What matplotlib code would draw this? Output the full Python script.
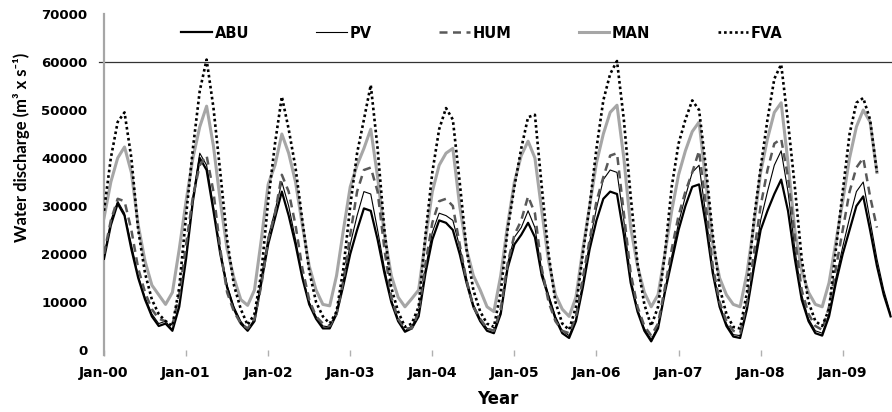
import numpy as np
import matplotlib
matplotlib.use('Agg')
import matplotlib.pyplot as plt

# monthly discharge, starting Jan-2000 (m3/s)
abu = [19000, 26000, 30500, 28000, 21000, 15000, 10500, 7000, 5000, 5500, 4000, 9000,
       19000, 31000, 40000, 37500, 29000, 20000, 13000, 8500, 5500, 4000, 6000, 14000,
       22000, 27500, 33000, 28000, 22000, 15000, 9500, 6500, 4500, 4500, 7500, 13500,
       20000, 25000, 29500, 29000, 23000, 16000, 10000, 6000, 3800, 4500, 7000, 16000,
       23000, 27000, 26500, 25000, 20000, 14000, 9000, 6000, 4000, 3500, 7500, 17000,
       22000, 24000, 26500, 23500, 15500, 11000, 6500, 3500, 2500, 6000, 13000, 21000,
       27000, 31500, 33000, 32500, 24000, 14000, 8000, 4000, 1800, 4500, 12000, 18500,
       25000, 30000, 34000, 34500, 26000, 16000, 9000, 5000, 2800, 2500, 8500, 17000,
       25000, 29000, 32500, 35500, 29000, 19000, 10500, 6000, 3500, 3000, 7000, 14000,
       20000, 25000, 30000, 32000, 25000, 17500, 11500, 7000]

pv = [19500, 27000, 31000, 28500, 22000, 15500, 11000, 7500, 5500, 6000, 4200, 9500,
      20000, 32000, 41000, 38500, 30000, 21000, 13500, 9000, 6000, 4200, 6500, 15000,
      23500, 29000, 35000, 30000, 23000, 15500, 10000, 7000, 5000, 4800, 8000, 14500,
      22000, 28000, 33000, 32500, 25000, 17000, 10500, 6500, 4000, 5000, 7500, 17000,
      24500, 28500, 28000, 27000, 21500, 15000, 9500, 6500, 4500, 4000, 8000, 18000,
      23500, 25500, 29000, 25500, 16500, 11500, 7000, 4000, 3000, 6500, 14000, 22500,
      29500, 35500, 37500, 37000, 27000, 15000, 8500, 4500, 2200, 5000, 12500, 19500,
      26500, 32000, 37000, 38500, 28000, 17000, 9500, 5500, 3200, 3000, 9000, 18000,
      27000, 33000, 38500, 41500, 33000, 21000, 11500, 6500, 4000, 3500, 7500, 15000,
      21500, 27500, 33000, 35000, 27000, 19000, 12500, 7500]

hum = [20000, 27000, 31500, 31000, 25000, 17000, 12000, 8500, 6500, 6000, 5200, 11500,
       22000, 32000, 38500, 40500, 33000, 21000, 12000, 8000, 5500, 4500, 6500, 13500,
       23000, 28500, 36500, 33000, 26000, 17000, 10500, 7000, 5500, 5000, 7500, 14500,
       24000, 33000, 37500, 38000, 33000, 21000, 11000, 6500, 4500, 4500, 8000, 18000,
       26500, 31000, 31500, 30000, 22000, 14500, 9000, 6500, 4500, 4000, 8500, 18000,
       24000, 27000, 32000, 28500, 17000, 10000, 6000, 4000, 3500, 7000, 15000, 23000,
       31000, 36000, 40500, 41000, 28500, 16000, 9000, 5000, 3000, 5500, 13000, 21000,
       28000, 33000, 37000, 41500, 30000, 17500, 10000, 6000, 4000, 3500, 10000, 20000,
       30000, 37500, 43000, 44000, 36000, 23500, 12500, 7500, 5000, 4200, 9000, 17000,
       25000, 33000, 38000, 40000, 32000, 25500]

man = [27500, 35000, 40000, 42300, 37000, 26000, 18500, 13500, 11500, 9500, 12000, 21000,
       31000, 40000, 46500, 50800, 42500, 31000, 21000, 15000, 10500, 9300, 12500, 23000,
       34500, 38500, 45000, 41000, 35000, 26000, 17500, 12500, 9500, 9200, 15500, 25000,
       34000, 38500, 42000, 46000, 36000, 24000, 15500, 11000, 9000, 10700, 12500, 23000,
       33000, 38500, 41000, 42000, 30000, 21000, 15500, 12500, 9000, 8000, 15500, 26000,
       35000, 40500, 43500, 40000, 29000, 18500, 11500, 8500, 7000, 11000, 21000, 30000,
       39000, 45000, 49500, 51000, 40000, 25500, 17500, 12000, 9000, 11500, 20000, 29000,
       36500, 41500, 45500, 47500, 35000, 22000, 15000, 11500, 9500, 9000, 16000, 26000,
       37000, 44000, 49500, 51500, 39000, 25000, 16500, 12000, 9500, 9000, 14000, 22500,
       31000, 40000, 46500, 50000, 47500, 37000]

fva = [29000, 40000, 47500, 49500, 40000, 25000, 16000, 10500, 7500, 6000, 5000, 13000,
       28000, 42000, 54000, 60500, 50500, 37000, 23000, 13500, 8500, 5200, 7500, 16000,
       31000, 43000, 52800, 46000, 38000, 27000, 16500, 10000, 7000, 5500, 8000, 17000,
       30000, 41000, 48000, 55200, 42000, 25000, 13000, 8000, 4800, 5500, 9000, 24000,
       37000, 46000, 50400, 48000, 35000, 21000, 12500, 8000, 5500, 4800, 12000, 25000,
       34000, 42000, 48500, 49000, 34000, 20000, 10000, 5500, 4200, 9000, 20000, 30000,
       42000, 52000, 57500, 60200, 48000, 32000, 18000, 9500, 5000, 9000, 20000, 34000,
       43000, 48000, 52000, 50000, 38000, 24000, 13000, 7500, 4800, 4500, 12000, 27000,
       38000, 48000, 56500, 59500, 47500, 34000, 19000, 10000, 6000, 5000, 8500, 21000,
       33000, 45000, 51500, 52500, 48000, 37000]

names = ['ABU', 'PV', 'HUM', 'MAN', 'FVA']
tick_labels = ['Jan-00', 'Jan-01', 'Jan-02', 'Jan-03', 'Jan-04',
               'Jan-05', 'Jan-06', 'Jan-07', 'Jan-08', 'Jan-09']
yticks = [0, 10000, 20000, 30000, 40000, 50000, 60000, 70000]

fig = plt.figure(figsize=(8.92, 4.12), dpi=100)
ax = fig.add_axes([104/892, 62/412, 1 - 104/892, 336/412])

bold = dict(fontweight='bold', family='DejaVu Sans')

ax.plot(np.arange(len(man)), man, color='#a6a6a6', lw=2.2, label='MAN', zorder=2)
ax.plot(np.arange(len(abu)), abu, color='black', lw=1.6, label='ABU', zorder=3)
ax.plot(np.arange(len(pv)), pv, color='black', lw=0.8, label='PV', zorder=3)
ax.plot(np.arange(len(hum)), hum, color='#595959', lw=1.8, dashes=(3.2, 2.2), label='HUM', zorder=4)
ax.plot(np.arange(len(fva)), fva, color='black', lw=1.9, linestyle=(0, (1, 1.1)), label='FVA', zorder=5)

ax.axhline(60000, xmin=-0.006, color='#333333', lw=0.9, clip_on=False, zorder=1)

ax.set_xlim(0, (892 - 104) / 6.84)
ax.set_ylim(0, 70000)

ax.set_xticks(np.arange(len(tick_labels)) * 12)
ax.set_xticklabels(tick_labels, fontsize=10, **bold)
ax.set_yticks(yticks)
ax.set_yticklabels([str(v) for v in yticks], fontsize=9.5, **bold)

ax.tick_params(axis='x', direction='out', length=4.5, width=1, color='#b0b0b0', pad=7)
ax.tick_params(axis='y', length=0, pad=12)

for s in ['top', 'right', 'bottom']:
    ax.spines[s].set_visible(False)
ax.spines['left'].set_color('#a6a6a6')
ax.spines['left'].set_linewidth(1.6)
ax.spines['left'].set_bounds(-1000, 70000)

ax.set_xlabel('Year', fontsize=12, labelpad=7, **bold)
ax.set_ylabel('Water discharge (m³ x s⁻¹)', fontsize=12, fontweight='bold',
              family=['Lato', 'DejaVu Sans'])
ax.yaxis.set_label_coords(-0.094, 0.604)

h, l = ax.get_legend_handles_labels()
order = [l.index(n) for n in names]
leg = fig.legend([h[i] for i in order], names, loc='center', bbox_to_anchor=(482/892, 1 - 33/412),
                 ncol=5, frameon=False, handlelength=2.1, handletextpad=0.2, columnspacing=4.6,
                 prop=dict(weight='bold', size=10.5, family='DejaVu Sans'))

fig.savefig('out.png', dpi=100)
